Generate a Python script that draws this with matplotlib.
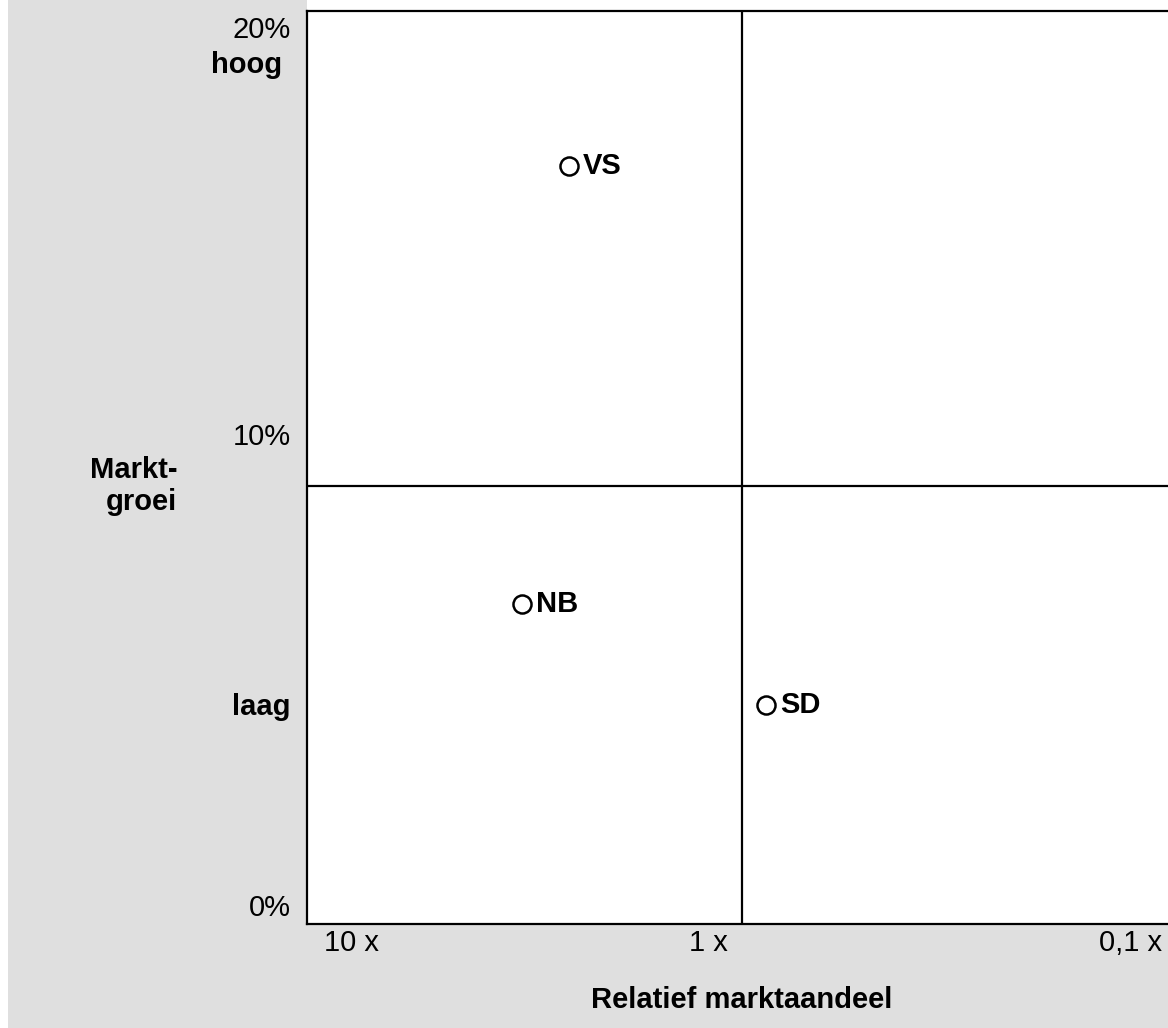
"""BCG-matrix: marktgroei tegen relatief marktaandeel."""

import matplotlib
import matplotlib.pyplot as plt

matplotlib.use("agg")

plt.rcParams["font.family"] = ["Liberation Sans", "DejaVu Sans"]

# Data
products = ["VS", "NB", "SD"]
market_share = [2.5, 3.2, 0.88]  # relatief marktaandeel (x)
market_growth = [16.6, 7.0, 4.8]  # marktgroei in %
share_split = 1.0
growth_split = 9.6
x_tick_values = [10, 1, 0.1]
x_tick_labels = ["10 x", "1 x", "0,1 x"]
y_tick_labels = ["0%", "10%", "20%"]

W, H = 1168, 1028
GRAY = "#dfdfdf"


def px(x, y):
    """Pixel position (from top-left) to figure fraction."""
    return x / W, 1 - y / H


fig = plt.figure(figsize=(W / 100, H / 100), dpi=100)
fig.patch.set_facecolor("white")

# Gray background panels left and below the plot (behind the axes)
fig.patches.append(plt.Rectangle(px(8, H), (307 - 8) / W, 1, facecolor=GRAY,
                                 transform=fig.transFigure, zorder=-1, linewidth=0))
fig.patches.append(plt.Rectangle(px(8, H), (W - 8) / W, (H - 924) / H, facecolor=GRAY,
                                 transform=fig.transFigure, zorder=-1, linewidth=0))

left, bottom = px(307, 924)
_, top = px(307, 11)
ax = fig.add_axes([left, bottom, 1 - left, top - bottom])
ax.set_facecolor("white")

ax.set_xscale("log")
ax.set_xlim(10, 0.105)
ax.set_ylim(0, 20)
ax.set_xticks([])
ax.set_yticks([])
ax.minorticks_off()
ax.spines["right"].set_visible(False)
for side in ["left", "top", "bottom"]:
    ax.spines[side].set_linewidth(1.6)

# Quadrant dividers
ax.axvline(share_split, color="black", linewidth=1.6)
ax.axhline(growth_split, color="black", linewidth=1.6)

fs = 21

# Products
ax.plot(market_share, market_growth, linestyle="none", marker="o", markersize=13,
        markerfacecolor="white", markeredgecolor="black", markeredgewidth=1.8, zorder=3)
for name, xv, yv in zip(products, market_share, market_growth):
    ax.annotate(name, (xv, yv), xytext=(10, 0), textcoords="offset points",
                ha="left", va="center", fontsize=fs, fontweight="bold")

# Y labels
for lab, ypix in zip(y_tick_labels, [908, 437, 30]):
    fig.text(*px(291, ypix), lab, ha="right", va="center", fontsize=fs)
fig.text(*px(282, 65), "hoog", ha="right", va="center", fontsize=fs, fontweight="bold")
fig.text(*px(290, 707), "laag", ha="right", va="center", fontsize=fs, fontweight="bold")
fig.text(*px(177, 486), "Markt-\ngroei", ha="right", va="center", fontsize=fs,
         fontweight="bold", multialignment="right", linespacing=1.2)

# X labels (anchor clamped to the visible x-range)
x_min_shown = ax.get_xlim()[1]
x_align = ["left", "right", "right"]
x_shift = [12, -10, -4]  # points
for val, lab, ha, dx in zip(x_tick_values, x_tick_labels, x_align, x_shift):
    ax.annotate(lab, (max(val, x_min_shown), 0), xycoords=("data", "axes fraction"),
                xytext=(dx, -14), textcoords="offset points", ha=ha, va="center",
                fontsize=fs, annotation_clip=False)
fig.text(*px(742, 1000), "Relatief marktaandeel", ha="center", va="center",
         fontsize=fs, fontweight="bold")

fig.savefig("out.png", dpi=100, facecolor="white")
